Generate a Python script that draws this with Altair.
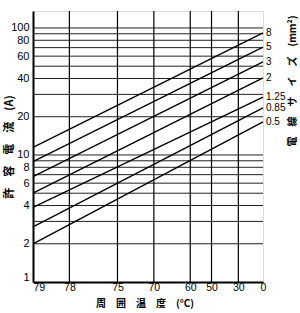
import altair as alt
import pandas as pd

# wire sizes (mm^2) and allowable current (A) at 79 degC and 0 degC ambient
sizes = ["0.5", "0.85", "1.25", "2", "3", "5", "8"]
amp_at_79 = [2.0, 2.72, 3.87, 5.0, 6.74, 8.86, 11.5]
amp_at_0 = [18.2, 23.5, 28.6, 40.4, 54.0, 70.8, 91.5]
temp_ticks = [79, 78, 75, 70, 60, 50, 30, 0]
temp_grid = [78, 75, 70, 60, 50, 30]
amp_grid = [2, 3, 4, 5, 6, 7, 8, 9, 10, 20, 30, 40, 50, 60, 70, 80, 90, 100]
amp_labels = [1, 2, 4, 6, 8, 10, 20, 40, 60, 80, 100]
T_MAX = 80

rows = []
for s, a, b in zip(sizes, amp_at_79, amp_at_0):
    rows.append({"size": s, "u": T_MAX - 79, "amp": a})
    rows.append({"size": s, "u": T_MAX - 0, "amp": b})
df = pd.DataFrame(rows)
ends = pd.DataFrame({"size": sizes, "u": [T_MAX - 0] * len(sizes), "amp": amp_at_0})
vgrid = pd.DataFrame({"u": [T_MAX - t for t in temp_grid]})
hgrid = pd.DataFrame({"amp": amp_grid})

xscale = alt.Scale(type="log", domain=[1, 80])
yscale = alt.Scale(type="log", domain=[1, 136])

FONT = "Liberation Sans"
CJK = "Noto Sans CJK JP"

xaxis = alt.Axis(
    values=[T_MAX - t for t in temp_ticks],
    labelExpr="format(80 - datum.value, 'd')",
    labelAlign={"condition": {"test": "datum.value <= 1", "value": "left"}, "value": "center"},
    title=None, grid=False, ticks=False, labelPadding=0,
    labelFont=FONT, labelFontSize=10.5, labelColor="black",
    domainColor="black", domainWidth=2, labelFlush=False)
yaxis = alt.Axis(
    values=amp_labels, format="d",
    labelBaseline={"condition": {"test": "datum.value <= 1", "value": "bottom"}, "value": "middle"},
    title=None, grid=False, ticks=False, labelPadding=4,
    labelFont=FONT, labelFontSize=11, labelColor="black",
    domainColor="black", domainWidth=2, labelFlush=False)

X = alt.X("u:Q", scale=xscale, axis=xaxis)
Y = alt.Y("amp:Q", scale=yscale, axis=yaxis)

lines = alt.Chart(df).mark_line(color="black", strokeWidth=1.4).encode(
    x=X, y=Y, detail="size:N")

vrules = alt.Chart(vgrid).mark_rule(color="black", strokeWidth=1.2).encode(x=X)
hrules = alt.Chart(hgrid).mark_rule(color="#222", strokeWidth=1).encode(y=Y)

labels = alt.Chart(ends).mark_text(align="left", baseline="middle", dx=3,
                                   font=FONT, fontSize=10, color="black").encode(
    x=X, y=Y, text="size:N")

title_df = pd.DataFrame({"k": [0]})
left_title = alt.Chart(title_df).mark_text(
    text="許\u3000容\u3000電\u3000流\u3000(A)", angle=270, font=CJK, fontSize=11,
    fontWeight="bold", align="center", baseline="middle", color="black"
).encode(x=alt.value(-23), y=alt.value(136))
right_title = alt.Chart(title_df).mark_text(
    text="電\u3000線\u3000サ\u3000イ\u3000ズ\u3000(mm²)", angle=270, font=CJK, fontSize=10,
    fontWeight="bold", align="center", baseline="middle", color="black"
).encode(x=alt.value(260), y=alt.value(70))
bottom_title = alt.Chart(title_df).mark_text(
    text="周\u2002\u2002囲\u2002\u2002温\u2002\u2002度\u2002\u2002(°C)", font=CJK, fontSize=10,
    fontWeight="bold", align="center", baseline="middle", color="black"
).encode(x=alt.value(112), y=alt.value(293))

chart = alt.layer(hrules, vrules, lines, labels, left_title, right_title, bottom_title).properties(
    width=230, height=271,
    autosize=alt.AutoSizeParams(type="none"),
    padding={"left": 33, "top": 11, "right": 37, "bottom": 31},
).configure_view(stroke="black", strokeWidth=1.5).configure(background="white")

chart.save("out.html", embed_options={"renderer": "svg", "actions": False})
